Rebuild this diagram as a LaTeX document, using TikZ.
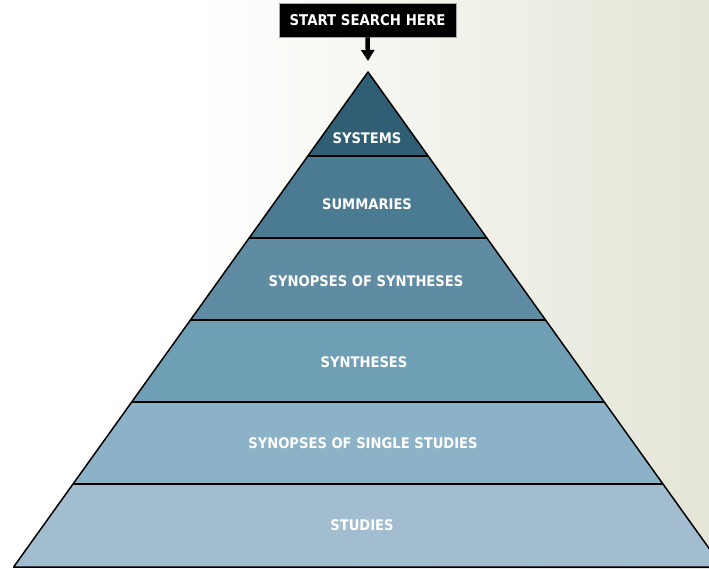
\documentclass[tikz,border=0pt]{standalone}
\usepackage{fontspec}
\newfontfamily\labfont[FakeStretch=0.9]{DejaVu Sans}
\usetikzlibrary{arrows.meta}
\definecolor{bgright}{HTML}{E4E5D6}
\definecolor{bandA}{HTML}{305F75}
\definecolor{bandB}{HTML}{4B7B92}
\definecolor{bandC}{HTML}{5F8CA2}
\definecolor{bandD}{HTML}{6F9FB5}
\definecolor{bandE}{HTML}{8BB2C6}
\definecolor{bandF}{HTML}{A1BDCF}
\tikzset{
  lab/.style={text=white,font=\labfont\bfseries\fontsize{14.6}{16}\selectfont,inner sep=0pt},
  sep/.style={line width=1.8pt,draw=black},
  edge/.style={line width=1.5pt,draw=black,line join=round},
  startbox/.style={fill=black,draw=gray!70,line width=0.6pt,minimum width=177pt,minimum height=34pt,inner sep=0pt,text=white,font=\labfont\bfseries\fontsize{14.8}{16}\selectfont},
}
\begin{document}
\begin{tikzpicture}[x=1pt,y=-1pt]
\useasboundingbox (0,0) rectangle (709,569);
\clip (0,0) rectangle (709,569);
% background
\fill[white] (0,0) rectangle (200,569);
\shade[left color=white,right color=bgright] (200,0) rectangle (709,569);
% bands
\fill[bandA] (368,72) -- (428.1,156) -- (307.9,156) -- cycle;
\fill[bandB] (307.9,156) -- (428.1,156) -- (486.9,238) -- (249.1,238) -- cycle;
\fill[bandC] (249.1,238) -- (486.9,238) -- (545.6,320) -- (190.4,320) -- cycle;
\fill[bandD] (190.4,320) -- (545.6,320) -- (604.3,402) -- (131.7,402) -- cycle;
\fill[bandE] (131.7,402) -- (604.3,402) -- (663,484) -- (73,484) -- cycle;
\fill[bandF] (73,484) -- (663,484) -- (722.4,567) -- (13.6,567) -- cycle;
% separators
\draw[sep] (307.9,156) -- (428.1,156);
\draw[sep] (249.1,238) -- (486.9,238);
\draw[sep] (190.4,320) -- (545.6,320);
\draw[sep] (131.7,402) -- (604.3,402);
\draw[sep] (73,484) -- (663,484);
% outline
\coordinate (apex) at (368,72);
\draw[edge] (13.6,567) -- (apex) -- (722.4,567) -- cycle;
% labels
\node[lab] (systems) at (367,138) {SYSTEMS};
\node[lab] (summaries) at (367,204) {SUMMARIES};
\node[lab] (synsyn) at (366,281) {SYNOPSES OF SYNTHESES};
\node[lab] (syntheses) at (364,362) {SYNTHESES};
\node[lab] (synsingle) at (363,443) {SYNOPSES OF SINGLE STUDIES};
\node[lab] (studies) at (362,525) {STUDIES};
% start box and arrow
\node[startbox] (start) at (367.5,20) {START SEARCH HERE};
\coordinate (tip) at (368,61);
\draw[line width=4.5pt,-{Triangle[width=13pt,length=11pt]}] (start.south) -- (tip);
\end{tikzpicture}
\end{document}
